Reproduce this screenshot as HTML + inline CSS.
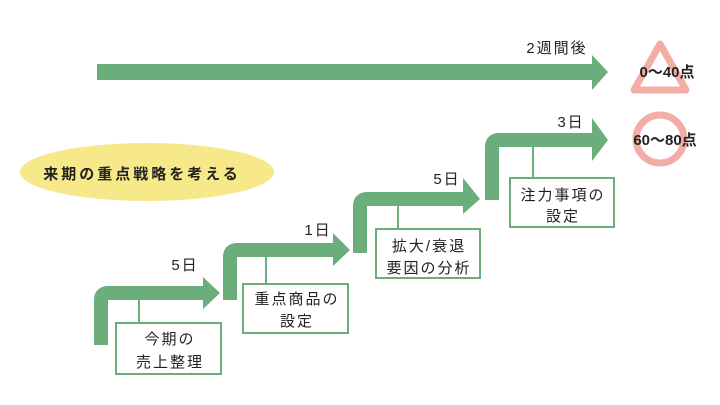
<!DOCTYPE html>
<html><head><meta charset="utf-8"><style>
html,body{margin:0;padding:0;background:#fff;width:720px;height:405px;overflow:hidden}
svg text{font-family:"Liberation Sans","Noto Sans CJK JP",sans-serif;fill:#222}
</style></head><body>
<svg width="720" height="405" viewBox="0 0 720 405" xmlns="http://www.w3.org/2000/svg">
<g fill="none" stroke="#6bae7c" stroke-width="14" stroke-linejoin="round">
<path d="M101 345 V300 Q101 293 108 293 H205"/>
<path d="M230 300 V257 Q230 250 237 250 H335"/>
<path d="M360 253 V206 Q360 199 367 199 H465"/>
<path d="M492 200 V147 Q492 140 499 140 H594"/>
</g>
<rect x="97" y="64" width="497" height="16" fill="#6bae7c"/>
<g fill="#6bae7c">
<polygon points="203,277 220,293 203,309"/>
<polygon points="333,233 350,250 333,266"/>
<polygon points="463,178 480,199 463,214"/>
<polygon points="592,118 608,140 592,161"/>
<polygon points="592,55 608,72 592,90"/>
</g>
<g stroke="#6bae7c" stroke-width="2" fill="#fff">
<line x1="139" y1="300" x2="139" y2="323"/>
<line x1="266" y1="256" x2="266" y2="284"/>
<line x1="398" y1="206" x2="398" y2="229"/>
<line x1="533" y1="147" x2="533" y2="178"/>
<rect x="116" y="323" width="105" height="51"/>
<rect x="243" y="284" width="105" height="49"/>
<rect x="376" y="229" width="104" height="49"/>
<rect x="510" y="178" width="104" height="49"/>
</g>
<ellipse cx="147" cy="172" rx="127" ry="29" fill="#f7e98a"/>
<text x="142" y="179" font-size="15" font-weight="bold" text-anchor="middle" letter-spacing="3">来期の重点戦略を考える</text>
<polygon points="660,44 634,90 686,90" fill="none" stroke="#f2aea5" stroke-width="7" stroke-linejoin="round"/>
<circle cx="660" cy="139" r="24" fill="none" stroke="#f2aea5" stroke-width="7"/>
<g font-size="15" font-weight="bold" text-anchor="middle">
<text x="667" y="77">0〜40点</text>
<text x="665" y="145">60〜80点</text>
</g>
<g font-size="15" text-anchor="middle" letter-spacing="2">
<text x="557" y="53">2週間後</text>
<text x="571" y="127">3日</text>
<text x="447" y="184">5日</text>
<text x="318" y="235">1日</text>
<text x="185" y="270">5日</text>
<text x="170" y="344">今期の</text>
<text x="170" y="367">売上整理</text>
<text x="297" y="304">重点商品の</text>
<text x="297" y="326">設定</text>
<text x="429" y="251">拡大/衰退</text>
<text x="429" y="273">要因の分析</text>
<text x="563" y="200">注力事項の</text>
<text x="563" y="221">設定</text>
</g>
</svg>
</body></html>
